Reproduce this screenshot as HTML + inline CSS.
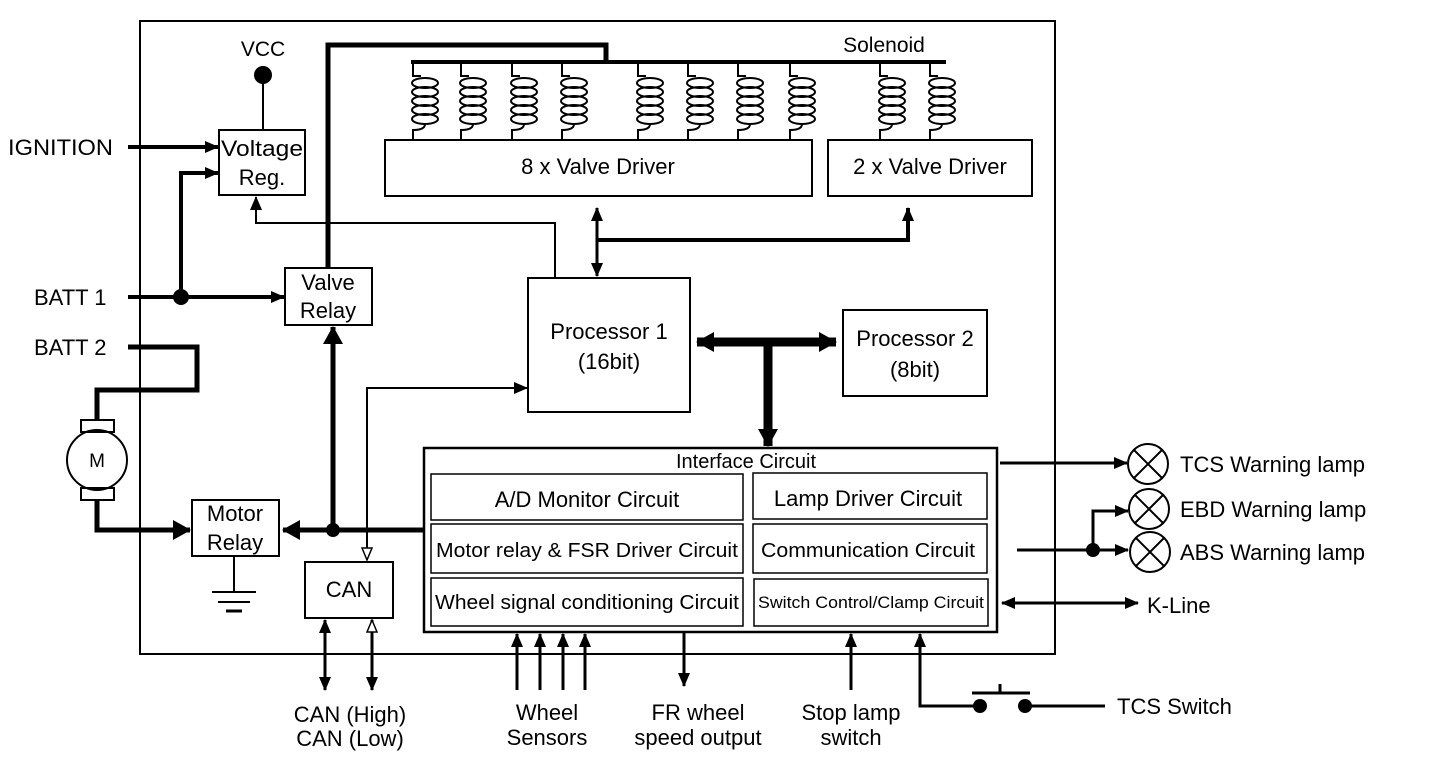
<!DOCTYPE html>
<html><head><style>
html,body{margin:0;padding:0;background:#fff;}
svg{display:block;}
text{font-family:"Liberation Sans",Arial,sans-serif;fill:#000;}
</style></head><body>
<svg width="1440" height="770" viewBox="0 0 1440 770" xmlns="http://www.w3.org/2000/svg">
<defs>
<marker id="a" markerWidth="14" markerHeight="12" refX="13" refY="6" orient="auto" markerUnits="userSpaceOnUse" viewBox="0 0 14 12"><path d="M0,0 L14,6 L0,12 z" fill="#000"/></marker>
<marker id="as" markerWidth="14" markerHeight="12" refX="13" refY="6" orient="auto-start-reverse" markerUnits="userSpaceOnUse" viewBox="0 0 14 12"><path d="M0,0 L14,6 L0,12 z" fill="#000"/></marker>
<marker id="big" markerWidth="18" markerHeight="20" refX="17" refY="10" orient="auto-start-reverse" markerUnits="userSpaceOnUse" viewBox="0 0 18 20"><path d="M0,0 L18,10 L0,20 z" fill="#000"/></marker>
<marker id="o" markerWidth="14" markerHeight="12" refX="13" refY="6" orient="auto-start-reverse" markerUnits="userSpaceOnUse" viewBox="0 0 14 12"><path d="M1,1 L13,6 L1,11 z" fill="#fff" stroke="#000" stroke-width="1.5"/></marker>
<g id="coil" fill="none" stroke="#000" stroke-width="2">
<path d="M0,62 V76 H8"/>
<ellipse cx="12" cy="83" rx="13" ry="5"/>
<ellipse cx="12" cy="92" rx="13" ry="5"/>
<ellipse cx="12" cy="101" rx="13" ry="5"/>
<ellipse cx="12" cy="110" rx="13" ry="5"/>
<ellipse cx="12" cy="119" rx="13" ry="5"/>
<path d="M12,124 Q12,130 0,130 V140"/>
</g>
</defs>

<g fill="none" stroke="#000">
<rect x="140" y="21" width="915" height="633" stroke-width="2"/>
<rect x="219" y="130" width="86" height="65" stroke-width="2"/>
<rect x="285" y="268" width="87" height="57" stroke-width="2"/>
<rect x="192" y="500" width="87" height="56" stroke-width="2"/>
<rect x="305" y="562" width="88" height="56" stroke-width="2"/>
<rect x="385" y="140" width="427" height="56" stroke-width="2"/>
<rect x="828" y="140" width="204" height="56" stroke-width="2"/>
<rect x="528" y="278" width="162" height="134" stroke-width="2"/>
<rect x="843" y="310" width="144" height="86" stroke-width="2"/>
<rect x="424" y="448" width="573" height="184" stroke-width="2.5"/>
<rect x="431" y="474" width="312" height="46" stroke-width="1.5"/>
<rect x="431" y="524" width="312" height="49" stroke-width="1.5"/>
<rect x="431" y="578" width="312" height="48" stroke-width="1.5"/>
<rect x="753" y="473" width="234" height="46" stroke-width="1.5"/>
<rect x="753" y="524" width="234" height="49" stroke-width="1.5"/>
<rect x="754" y="579" width="234" height="47" stroke-width="1.5"/>

<line x1="263" y1="75" x2="263" y2="130" stroke-width="2"/>
<path d="M328,268 V45 H606 V62" stroke-width="5"/>
<line x1="411" y1="62" x2="946" y2="62" stroke-width="4"/>
<line x1="128" y1="147" x2="218" y2="147" stroke-width="4" marker-end="url(#a)"/>
<line x1="128" y1="297" x2="284" y2="297" stroke-width="4" marker-end="url(#a)"/>
<path d="M181,297 V173 H218" stroke-width="4" marker-end="url(#a)"/>
<path d="M555,278 V223 H256 V197" stroke-width="2" marker-end="url(#a)"/>
<line x1="597" y1="208" x2="597" y2="276" stroke-width="3" marker-start="url(#as)" marker-end="url(#as)"/>
<path d="M597,240 H908 V208" stroke-width="4" marker-end="url(#a)"/>
<path d="M128,347 H197 V390 H97 V420" stroke-width="5"/>
<circle cx="97" cy="460" r="30" stroke-width="2"/>
<rect x="81" y="420" width="33" height="12" stroke-width="2"/>
<rect x="81" y="488" width="33" height="12" stroke-width="2"/>
<path d="M97,500 V530 H190" stroke-width="5" marker-end="url(#big)"/>
<line x1="234" y1="556" x2="234" y2="592" stroke-width="2"/>
<line x1="212" y1="592" x2="256" y2="592" stroke-width="2"/>
<line x1="218" y1="602" x2="250" y2="602" stroke-width="2"/>
<line x1="226" y1="611" x2="242" y2="611" stroke-width="3"/>
<line x1="424" y1="530" x2="283" y2="530" stroke-width="5" marker-end="url(#big)"/>
<line x1="333" y1="530" x2="333" y2="327" stroke-width="5" marker-end="url(#big)"/>
<path d="M528,388 H367 V560" stroke-width="2" marker-end="url(#o)"/>
<line x1="367" y1="388" x2="527" y2="388" stroke-width="2" marker-end="url(#a)"/>
<line x1="325" y1="620" x2="325" y2="690" stroke-width="3" marker-start="url(#as)" marker-end="url(#as)"/>
<line x1="372" y1="620" x2="372" y2="690" stroke-width="3" marker-start="url(#o)" marker-end="url(#as)"/>
<line x1="697" y1="342" x2="836" y2="342" stroke-width="9" marker-start="url(#big)" marker-end="url(#big)"/>
<line x1="768" y1="342" x2="768" y2="446" stroke-width="9" marker-end="url(#big)"/>
<line x1="1000" y1="463" x2="1127" y2="463" stroke-width="3" marker-end="url(#a)"/>
<line x1="1017" y1="550" x2="1128" y2="550" stroke-width="3" marker-end="url(#a)"/>
<path d="M1093,550 V511 H1128" stroke-width="3" marker-end="url(#a)"/>
<line x1="1002" y1="603" x2="1138" y2="603" stroke-width="3" marker-start="url(#as)" marker-end="url(#as)"/>
<g stroke-width="2">
<circle cx="1148" cy="464" r="20"/><path d="M1134,450 L1162,478 M1162,450 L1134,478"/>
<circle cx="1149" cy="509" r="20"/><path d="M1135,495 L1163,523 M1163,495 L1135,523"/>
<circle cx="1150" cy="552" r="20"/><path d="M1136,538 L1164,566 M1164,538 L1136,566"/>
</g>
<g stroke-width="3">
<line x1="517" y1="690" x2="517" y2="634" marker-end="url(#a)"/>
<line x1="540" y1="690" x2="540" y2="634" marker-end="url(#a)"/>
<line x1="563" y1="690" x2="563" y2="634" marker-end="url(#a)"/>
<line x1="585" y1="690" x2="585" y2="634" marker-end="url(#a)"/>
<line x1="684" y1="632" x2="684" y2="686" marker-end="url(#a)"/>
<line x1="851" y1="690" x2="851" y2="634" marker-end="url(#a)"/>
<path d="M920,634 V706 H980" marker-start="url(#as)"/>
<line x1="1025" y1="706" x2="1105" y2="706"/>
<line x1="972" y1="693" x2="1030" y2="693"/>
<line x1="1000" y1="693" x2="1000" y2="684"/>
</g>
</g>
<g fill="#000">
<circle cx="263" cy="75" r="9"/>
<circle cx="181" cy="297" r="8"/>
<circle cx="333" cy="530" r="7"/>
<circle cx="1093" cy="550" r="7"/>
<circle cx="980" cy="706" r="7"/>
<circle cx="1025" cy="706" r="7"/>
</g>
<g>
<use href="#coil" x="413"/><use href="#coil" x="461"/><use href="#coil" x="512"/><use href="#coil" x="562"/>
<use href="#coil" x="638"/><use href="#coil" x="688"/><use href="#coil" x="738"/><use href="#coil" x="790"/>
<use href="#coil" x="880"/><use href="#coil" x="930"/>
</g>

<g font-size="22">
<text x="263" y="56" text-anchor="middle" font-size="21">VCC</text>
<text x="884" y="52" text-anchor="middle" font-size="21">Solenoid</text>
<text x="8" y="155" textLength="105" lengthAdjust="spacingAndGlyphs">IGNITION</text>
<text x="34" y="305">BATT 1</text>
<text x="34" y="355">BATT 2</text>
<text x="262" y="156" text-anchor="middle" textLength="82" lengthAdjust="spacingAndGlyphs">Voltage</text>
<text x="262" y="185" text-anchor="middle">Reg.</text>
<text x="328" y="290" text-anchor="middle">Valve</text>
<text x="328" y="318" text-anchor="middle">Relay</text>
<text x="235" y="521" text-anchor="middle">Motor</text>
<text x="235" y="550" text-anchor="middle">Relay</text>
<text x="349" y="597" text-anchor="middle">CAN</text>
<text x="97" y="467" text-anchor="middle" font-size="19">M</text>
<text x="598" y="174" text-anchor="middle">8 x Valve Driver</text>
<text x="930" y="174" text-anchor="middle">2 x Valve Driver</text>
<text x="609" y="339" text-anchor="middle">Processor 1</text>
<text x="609" y="369" text-anchor="middle">(16bit)</text>
<text x="915" y="346" text-anchor="middle">Processor 2</text>
<text x="915" y="377" text-anchor="middle">(8bit)</text>
<text x="746" y="468" text-anchor="middle" font-size="20">Interface Circuit</text>
<text x="587" y="507" text-anchor="middle">A/D Monitor Circuit</text>
<text x="587" y="557" text-anchor="middle" font-size="20" textLength="302" lengthAdjust="spacingAndGlyphs">Motor relay &amp; FSR Driver Circuit</text>
<text x="587" y="609" text-anchor="middle" font-size="20" textLength="304" lengthAdjust="spacingAndGlyphs">Wheel signal conditioning Circuit</text>
<text x="868" y="506" text-anchor="middle">Lamp Driver Circuit</text>
<text x="868" y="557" text-anchor="middle" font-size="20" textLength="214" lengthAdjust="spacingAndGlyphs">Communication Circuit</text>
<text x="871" y="608" text-anchor="middle" font-size="17" textLength="226" lengthAdjust="spacingAndGlyphs">Switch Control/Clamp Circuit</text>
<text x="1180" y="472">TCS Warning lamp</text>
<text x="1180" y="517">EBD Warning lamp</text>
<text x="1180" y="560">ABS Warning lamp</text>
<text x="1147" y="613">K-Line</text>
<text x="1117" y="714">TCS Switch</text>
<text x="350" y="722" text-anchor="middle">CAN (High)</text>
<text x="350" y="746" text-anchor="middle">CAN (Low)</text>
<text x="547" y="720" text-anchor="middle">Wheel</text>
<text x="547" y="745" text-anchor="middle">Sensors</text>
<text x="698" y="720" text-anchor="middle">FR wheel</text>
<text x="698" y="745" text-anchor="middle">speed output</text>
<text x="851" y="720" text-anchor="middle">Stop lamp</text>
<text x="851" y="745" text-anchor="middle">switch</text>
</g>
</svg>
</body></html>
